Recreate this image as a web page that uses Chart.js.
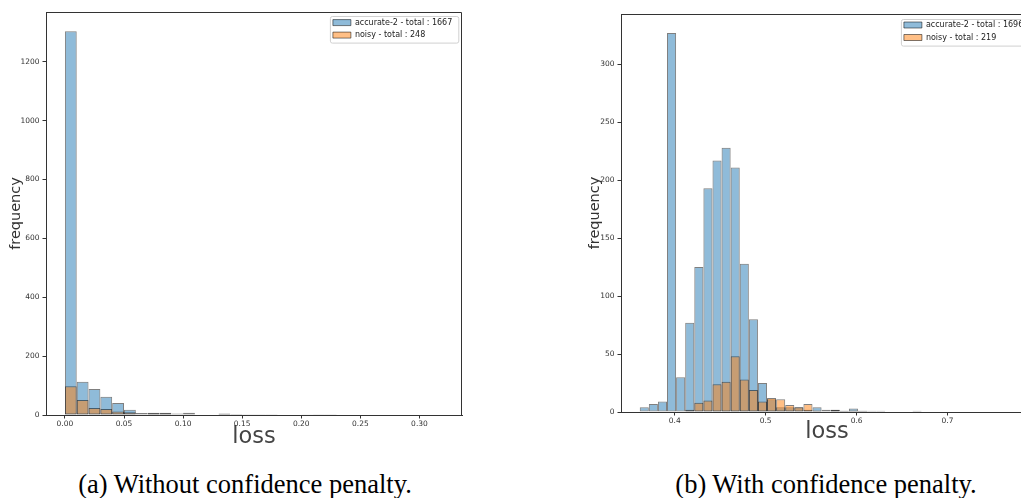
<!DOCTYPE html>
<html>
<head>
<meta charset="utf-8">
<script src="https://cdn.jsdelivr.net/npm/chart.js@4.4.0/dist/chart.umd.min.js"></script>
<style>
  html, body { margin: 0; padding: 0; background: #fff; width: 1021px; height: 498px; overflow: hidden; position: relative; }
  canvas { position: absolute; top: 0; }
  #histA { left: 0; }
  #histB { left: 560px; }
  .caption { position: absolute; top: 471px; font-family: "Liberation Serif", "Times New Roman", serif; font-size: 26.5px; line-height: 26px; color: #000; white-space: nowrap; transform: translateX(-50%); }
</style>
</head>
<body>
<canvas id="histA" width="480" height="460"></canvas>
<canvas id="histB" width="480" height="460"></canvas>
<div class="caption" style="left:245px">(a) Without confidence penalty.</div>
<div class="caption" style="left:826px">(b) With confidence penalty.</div>
<script>
// (a) without confidence penalty - bins of 0.01 from 0.00
const binStartA = 0;
const binWidthA = 0.01;
const accurateA = [1304, 113, 88, 62, 41, 18, 7, 6, 6, 5, 8, 0, 2, 3, 2, 1, 1, 1, 0, 2, 2, 1, 1, 0, 0, 0, 0, 0, 0, 2, 0, 0];
const noisyA    = [98, 51, 24, 20, 12, 9, 2, 8, 8, 2, 1, 0, 2, 5, 3, 1, 1, 1, 0, 0, 1, 1, 1, 0, 0, 0, 0, 0, 0, 0, 0, 0];
const totalsA = [1667, 248];
const xTicksA = [0, 0.05, 0.10, 0.15, 0.20, 0.25, 0.30];
const yTicksA = [0, 200, 400, 600, 800, 1000, 1200];

// (b) with confidence penalty - bins of 0.01 from 0.3615
const binStartB = 0.3615;
const binWidthB = 0.01;
const accurateB = [4, 7, 9, 327, 30, 77, 125, 193, 217, 228, 211, 128, 80, 25, 11, 4, 4, 4, 2, 4, 2, 2, 1, 3, 1, 1, 1, 0, 0, 0, 1];
const noisyB    = [0, 0, 0, 0, 0, 2, 8, 10, 24, 26, 48, 28, 19, 9, 12, 11, 6, 4, 7, 1, 0, 2, 1, 1, 1, 0, 0, 0, 0, 0, 0];
const totalsB = [1696, 219];
const xTicksB = [0.4, 0.5, 0.6, 0.7];
const yTicksB = [0, 50, 100, 150, 200, 250, 300];

const tickFont = { family: 'DejaVu Sans', size: 7.5 };

// matplotlib-like legend frame placed in the upper right of the plot area
const legendFrame = {
  id: 'legendFrame',
  afterLayout(chart, args, o) {
    const lg = chart.legend, ca = chart.chartArea;
    const pad = lg.options.labels.padding;
    const w = lg.columnSizes[0].width + 3 + 6;
    const h = 26.6;
    const fx = ca.right - 3.7 - w, fy = ca.top + o.dy;
    lg.left = fx + 3 - pad;
    lg.top = fy + o.row1 - pad - 4;
    lg.right = fx + w + 2;
    lg.bottom = ca.bottom;
    chart.$frame = { x: fx, y: fy, w, h };
  },
  beforeDraw(chart) {
    const f = chart.$frame, ctx = chart.ctx;
    if (!f) return;
    ctx.save();
    ctx.beginPath();
    ctx.roundRect(f.x + 0.5, f.y + 0.5, f.w, f.h, 2);
    ctx.fillStyle = 'rgba(255,255,255,0.8)';
    ctx.fill();
    ctx.strokeStyle = '#d0d0d0';
    ctx.lineWidth = 1;
    ctx.stroke();
    ctx.restore();
  }
};

// top and right spines
const axesBox = {
  id: 'axesBox',
  afterDraw(chart) {
    const { ctx, chartArea: a } = chart;
    ctx.save();
    ctx.strokeStyle = '#333';
    ctx.lineWidth = 1;
    ctx.beginPath();
    ctx.moveTo(a.left, a.top + 0.5);
    ctx.lineTo(a.right - 0.5, a.top + 0.5);
    ctx.lineTo(a.right - 0.5, a.bottom);
    ctx.stroke();
    ctx.restore();
  }
};

function histogram(id, p) {
  const centers = p.accurate.map((_, i) => +(p.start + (i + 0.5) * p.width).toFixed(5));
  const pts = arr => arr.map((y, i) => ({ x: centers[i], y }));
  return new Chart(document.getElementById(id), {
    type: 'bar',
    data: {
      datasets: [
        { label: `accurate-2 - total : ${p.totals[0]}`, data: pts(p.accurate),
          backgroundColor: 'rgba(31,119,180,0.5)', borderColor: 'rgba(0,0,0,0.5)', order: 1 },
        { label: `noisy - total : ${p.totals[1]}`, data: pts(p.noisy),
          backgroundColor: 'rgba(255,127,14,0.5)', borderColor: 'rgba(0,0,0,0.5)', order: 0 }
      ]
    },
    options: {
      responsive: false,
      animation: false,
      layout: { padding: { top: p.top, right: p.right, left: 0, bottom: 0 } },
      datasets: {
        bar: { grouped: false, barPercentage: 1, categoryPercentage: 1, borderWidth: 1, borderSkipped: false, inflateAmount: 0 }
      },
      scales: {
        x: {
          type: 'linear', min: p.xMin, max: p.xMax, offset: false,
          afterBuildTicks: ax => { ax.ticks = p.xTicks.map(value => ({ value })); },
          afterFit: ax => { ax.height = p.xAxisH; },
          ticks: { callback: v => v.toFixed(p.xDigits), font: tickFont, color: '#333', padding: 1, maxRotation: 0, autoSkip: false },
          grid: { offset: false, drawOnChartArea: false, drawTicks: true, tickLength: 3.5, color: '#333' },
          border: { color: '#333', width: 1 },
          title: { display: true, text: 'loss', color: '#444',
                   font: { family: 'DejaVu Sans', size: 22.5 }, padding: { top: 0, bottom: p.lossPad } }
        },
        y: {
          min: 0, max: Math.max(...p.accurate, ...p.noisy) * 1.05,
          afterBuildTicks: ax => { ax.ticks = p.yTicks.map(value => ({ value })); },
          afterFit: ax => { ax.width = p.yAxisW; },
          ticks: { callback: v => String(v), font: tickFont, color: '#333', padding: 3 },
          grid: { drawOnChartArea: false, drawTicks: true, tickLength: 3.5, color: '#333' },
          border: { color: '#333', width: 1 },
          title: { display: true, text: 'frequency', color: '#333',
                   font: { family: 'DejaVu Sans', size: 14.5 }, padding: { top: p.freqPad, bottom: 0 } }
        }
      },
      plugins: {
        legend: {
          position: 'chartArea', align: 'start',
          labels: {
            font: { family: 'DejaVu Sans', size: 8 }, color: '#222',
            boxWidth: 18, boxHeight: 6, padding: 4.5,
            sort: (a, b) => a.datasetIndex - b.datasetIndex
          }
        },
        tooltip: { enabled: false },
        legendFrame: { dy: p.frameDy, row1: p.row1 }
      }
    },
    plugins: [legendFrame, axesBox]
  });
}

histogram('histA', {
  start: binStartA, width: binWidthA, accurate: accurateA, noisy: noisyA, totals: totalsA,
  xTicks: xTicksA, yTicks: yTicksA, xDigits: 2, xMin: -0.016, xMax: 0.336,
  top: 12, right: 18, yAxisW: 46, xAxisH: 45, lossPad: 9.3, freqPad: 7.3, frameDy: 4, row1: 6.6
});

histogram('histB', {
  start: binStartB, width: binWidthB, accurate: accurateB, noisy: noisyB, totals: totalsB,
  xTicks: xTicksB, yTicks: yTicksB, xDigits: 1, xMin: 0.3409, xMax: 0.794,
  top: 14, right: 7, yAxisW: 61, xAxisH: 48, lossPad: 14.3, freqPad: 26.8, frameDy: 5, row1: 6
});
</script>
</body>
</html>
